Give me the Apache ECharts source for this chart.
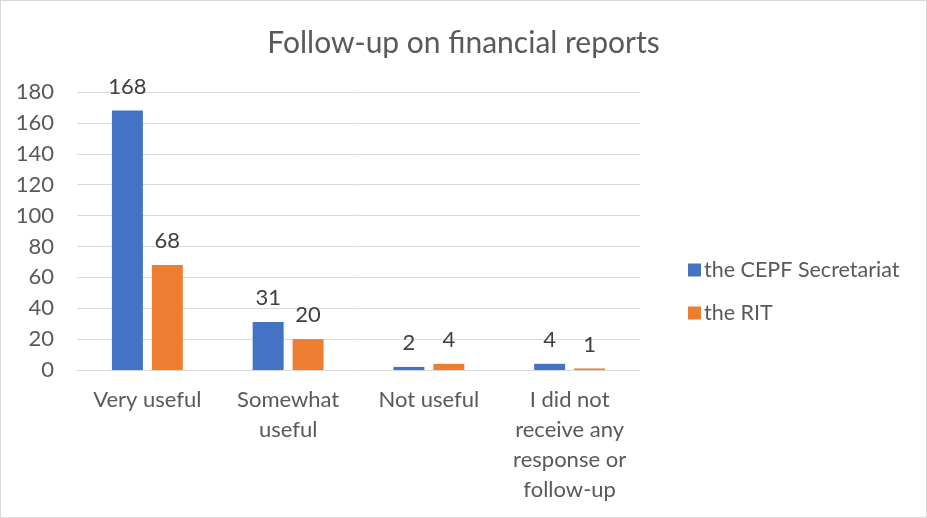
<!DOCTYPE html>
<html>
<head>
<meta charset="utf-8">
<script src="https://cdn.jsdelivr.net/npm/echarts@6/dist/echarts.min.js"></script>
<style>
  html, body { margin: 0; padding: 0; background: #fff; }
  #chart { width: 925px; height: 516px; border: 1px solid #d9d9d9; }
</style>
</head>
<body>
<div id="chart"></div>
<script>
// Survey results: usefulness of follow-up on financial reports
const categories = [
  'Very useful',
  'Somewhat\nuseful',
  'Not useful',
  'I did not\nreceive any\nresponse or\nfollow-up'
];
const seriesNames = ['the CEPF Secretariat', 'the RIT'];
const cepfValues = [168, 31, 2, 4];
const ritValues = [68, 20, 4, 1];
const yTicks = { min: 0, max: 180, interval: 20 };

const textColor = '#595959';
const fontFamily = 'Lato, "Open Sans", sans-serif';

const chart = echarts.init(document.getElementById('chart'));

const labelStyle = {
  show: true,
  position: 'top',
  color: '#404040',
  fontSize: 22,
  fontFamily: fontFamily,
  distance: 13
};

chart.setOption({
  animation: false,
  textStyle: { fontFamily: fontFamily },
  title: {
    text: 'Follow-up on financial reports',
    left: 'center',
    top: 22,
    textStyle: { color: textColor, fontSize: 30, fontWeight: 'normal', fontFamily: fontFamily }
  },
  legend: {
    orient: 'vertical',
    left: 682,
    top: 253,
    itemWidth: 13,
    itemHeight: 13,
    itemGap: 21,
    icon: 'rect',
    textStyle: { color: textColor, fontSize: 21.5, fontFamily: fontFamily, padding: [0, 0, 0, -2] },
    data: seriesNames
  },
  grid: { left: 76, right: 286, top: 91, bottom: 147, containLabel: false },
  xAxis: {
    type: 'category',
    data: categories,
    axisLine: { lineStyle: { color: '#d9d9d9' } },
    axisTick: { show: false },
    axisLabel: {
      color: textColor,
      fontSize: 22,
      fontFamily: fontFamily,
      lineHeight: 30,
      margin: 15,
      interval: 0
    }
  },
  yAxis: {
    type: 'value',
    min: yTicks.min,
    max: yTicks.max,
    interval: yTicks.interval,
    axisLine: { show: false },
    axisTick: { show: false },
    splitLine: { lineStyle: { color: '#d9d9d9' } },
    axisLabel: { color: textColor, fontSize: 22, fontFamily: fontFamily, margin: 23 }
  },
  series: [
    {
      name: seriesNames[0],
      type: 'bar',
      data: cepfValues,
      barWidth: '22%',
      barGap: '29%',
      itemStyle: { color: '#4472c4' },
      label: labelStyle
    },
    {
      name: seriesNames[1],
      type: 'bar',
      data: ritValues,
      barWidth: '22%',
      itemStyle: { color: '#ed7d31' },
      label: labelStyle
    }
  ]
});
</script>
</body>
</html>
